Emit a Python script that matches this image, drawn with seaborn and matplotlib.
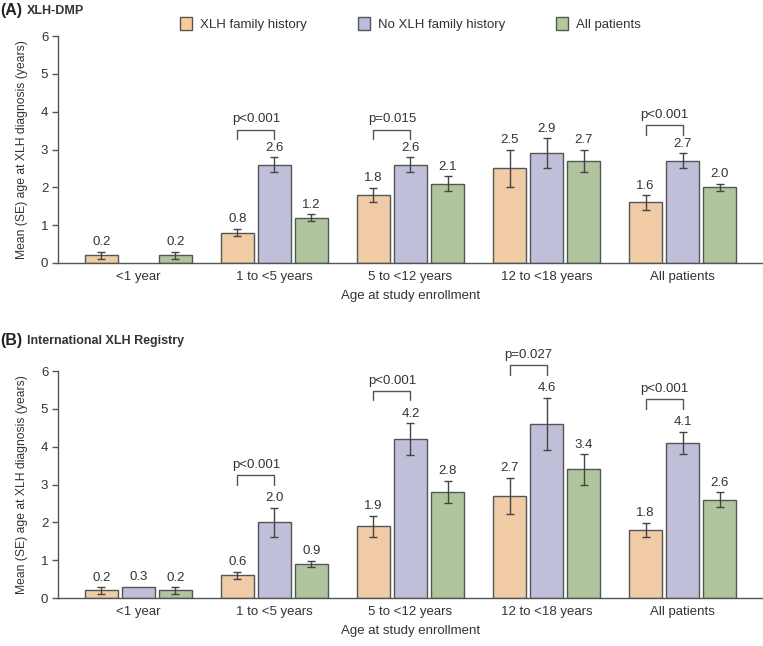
import numpy as np
import pandas as pd
import matplotlib.pyplot as plt
from matplotlib.patches import Patch
import seaborn as sns

# categories / series
groups = ["<1 year", "1 to <5 years", "5 to <12 years", "12 to <18 years", "All patients"]
series = ["XLH family history", "No XLH family history", "All patients"]

# (A) XLH-DMP : mean and SE
dmp_family = [0.2, 0.8, 1.8, 2.5, 1.6]
dmp_family_se = [0.09, 0.1, 0.19, 0.5, 0.19]
dmp_nofamily = [np.nan, 2.6, 2.6, 2.9, 2.7]
dmp_nofamily_se = [np.nan, 0.19, 0.19, 0.4, 0.2]
dmp_all = [0.2, 1.2, 2.1, 2.7, 2.0]
dmp_all_se = [0.09, 0.09, 0.2, 0.3, 0.1]
dmp_pvalues = {1: "p<0.001", 2: "p=0.015", 4: "p<0.001"}

# (B) International XLH Registry : mean and SE
reg_family = [0.2, 0.6, 1.9, 2.7, 1.8]
reg_family_se = [0.09, 0.09, 0.28, 0.48, 0.19]
reg_nofamily = [0.3, 2.0, 4.2, 4.6, 4.1]
reg_nofamily_se = [np.nan, 0.39, 0.42, 0.69, 0.3]
reg_all = [0.2, 0.9, 2.8, 3.4, 2.6]
reg_all_se = [0.09, 0.09, 0.3, 0.4, 0.19]
reg_pvalues = {1: "p<0.001", 2: "p<0.001", 3: "p=0.027", 4: "p<0.001"}

colors = ["#FDCB98", "#BBBBDD", "#B0CB98"]
edge = "#555555"
txt = "#333333"

sns.set_theme(style="ticks")
plt.rcParams['font.family'] = ['Liberation Sans', 'DejaVu Sans']


def make_df(vals, ses):
    rows = []
    for s, v, e in zip(series, vals, ses):
        for g, vi, ei in zip(groups, v, e):
            rows.append({"group": g, "series": s, "value": vi, "se": ei})
    return pd.DataFrame(rows)


def draw_panel(ax, df, pvalues, bracket_gap):
    sns.barplot(data=df.dropna(subset=["value"]), x="group", y="value", hue="series",
                order=groups, hue_order=series, palette=colors, width=0.816, gap=0.1,
                edgecolor=edge, linewidth=1, errorbar=None, legend=False, ax=ax)
    centers = {}
    bar_conts = list(ax.containers)
    for si, cont in enumerate(bar_conts):
        for bar in cont:
            if bar is None or np.isnan(bar.get_height()):
                continue
            xc = bar.get_x() + bar.get_width() / 2
            gi = int(round(xc))
            row = df[(df.series == series[si]) & (df.group == groups[gi])].iloc[0]
            centers[(si, gi)] = xc
            top = row.value
            if not np.isnan(row.se):
                ax.errorbar(xc, row.value, yerr=row.se, fmt="none", ecolor="#444444",
                            elinewidth=1, capsize=3, capthick=1, zorder=3)
                top = row.value + row.se
            ax.annotate(f"{row.value:.1f}", (xc, top), xytext=(0, 2.5),
                        textcoords="offset points", ha="center", va="bottom",
                        fontsize=9.5, color=txt)
    # significance brackets between family / no family history
    for gi, label in pvalues.items():
        r0 = df[(df.series == series[0]) & (df.group == groups[gi])].iloc[0]
        r1 = df[(df.series == series[1]) & (df.group == groups[gi])].iloc[0]
        y = max(r0.value + r0.se, r1.value + r1.se) + bracket_gap
        x0, x1 = centers[(0, gi)], centers[(1, gi)]
        ax.plot([x0, x0, x1, x1], [y - 0.25, y, y, y - 0.25], color="#555555",
                lw=1, clip_on=False)
        ax.annotate(label, ((x0 + x1) / 2, y), xytext=(0, 3), textcoords="offset points",
                    ha="center", va="bottom", fontsize=9.5, color=txt,
                    annotation_clip=False)
    ax.set_xlim(-0.59, 4.59)
    ax.set_ylim(0, 6)
    ax.set_yticks(range(7))
    ax.spines[["top", "right"]].set_visible(False)
    ax.spines["left"].set_bounds(0, 6)
    for sp in ["left", "bottom"]:
        ax.spines[sp].set_color(edge)
        ax.spines[sp].set_linewidth(1)
    ax.tick_params(axis="x", length=0, labelsize=9.5, labelcolor=txt, pad=6)
    ax.tick_params(axis="y", length=4, width=1, color=edge, labelsize=9.5,
                   labelcolor=txt, pad=3)
    ax.set_xlabel("Age at study enrollment", fontsize=9.5, color=txt, labelpad=5)
    ax.set_ylabel("Mean (SE) age at XLH diagnosis (years)", fontsize=8.7, color=txt,
                  labelpad=9)


fig = plt.figure(figsize=(7.63, 6.46), dpi=100)
axA = fig.add_axes([0.076, 0.593, 0.924, 0.351])
axB = fig.add_axes([0.076, 0.0743, 0.924, 0.3513])

draw_panel(axA, make_df([dmp_family, dmp_nofamily, dmp_all],
                        [dmp_family_se, dmp_nofamily_se, dmp_all_se]), dmp_pvalues, 0.74)
draw_panel(axB, make_df([reg_family, reg_nofamily, reg_all],
                        [reg_family_se, reg_nofamily_se, reg_all_se]), reg_pvalues, 0.86)

# panel titles
fig.text(0.0, 1 - 11 / 646, "(A)", fontsize=11.5, fontweight="bold", va="center", color="#222222")
fig.text(0.035, 1 - 11 / 646, "XLH-DMP", fontsize=9, fontweight="bold", va="center",
         color="#333333")
fig.text(0.0, 1 - 341 / 646, "(B)", fontsize=11.5, fontweight="bold", va="center", color="#222222")
fig.text(0.035, 1 - 341 / 646, "International XLH Registry", fontsize=9, fontweight="bold",
         va="center", color="#333333")

handles = [Patch(facecolor=c, edgecolor=edge, linewidth=1) for c in colors]
fig.legend(handles, series, loc="center", bbox_to_anchor=(0.538, 1 - 24 / 646), ncol=3,
           frameon=False, columnspacing=3.9, handlelength=0.9, handleheight=1.1,
           handletextpad=0.6, fontsize=9.5, labelcolor=txt)

fig.savefig("out.png", dpi=100)
